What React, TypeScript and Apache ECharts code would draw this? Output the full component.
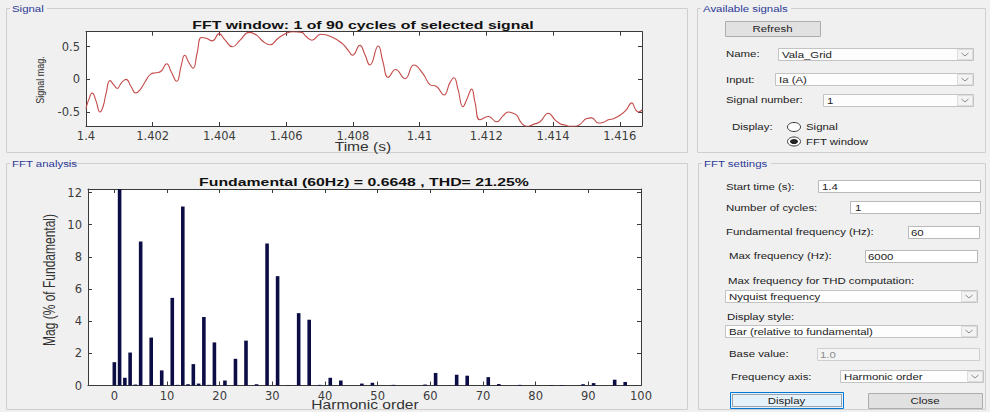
import React, { useEffect, useRef } from 'react';
import * as echarts from 'echarts';

// ---------- Data ----------
const signalTime = [
  1.4, 1.40009, 1.40019, 1.4003, 1.40042, 1.40051, 1.4006, 1.40072, 1.40084, 1.40094,
  1.40105, 1.4012, 1.40135, 1.40149, 1.40162, 1.40177, 1.40194, 1.40209, 1.40224, 1.40242,
  1.40255, 1.40272, 1.40285, 1.40296, 1.40309, 1.40321, 1.40333, 1.40346, 1.4036, 1.40379,
  1.40399, 1.40417, 1.40439, 1.40462, 1.40489, 1.40513, 1.40531, 1.40552, 1.40576, 1.40602,
  1.40621, 1.40647, 1.40659, 1.40677, 1.40704, 1.4074, 1.4077, 1.40785, 1.40799, 1.40821,
  1.40836, 1.40851, 1.40876, 1.4089, 1.40906, 1.40928, 1.40956, 1.40983, 1.41011, 1.41031,
  1.41051, 1.41073, 1.41091, 1.41103, 1.41115, 1.4113, 1.41142, 1.41156, 1.41166, 1.41181,
  1.41206, 1.41231, 1.4125, 1.41266, 1.4128, 1.41291, 1.41304, 1.41321, 1.41341, 1.41361,
  1.41386, 1.41406, 1.41421, 1.41436, 1.41451, 1.41466, 1.41481, 1.41501, 1.41516, 1.41536,
  1.4155, 1.41566, 1.41583, 1.41601, 1.41619, 1.41636, 1.41646, 1.41656, 1.41667,
];
const signalMag = [
  -0.45, -0.3, -0.21, -0.33, -0.5, -0.42, -0.22, -0.02, -0.09, -0.14,
  -0.06, 0.0, -0.11, -0.21, -0.16, -0.04, 0.08, 0.1, 0.12, 0.24,
  0.12, -0.03, 0.2, 0.37, 0.25, 0.17, 0.4, 0.64, 0.63, 0.59,
  0.7, 0.6, 0.5, 0.6, 0.72, 0.67, 0.58, 0.53, 0.63, 0.71,
  0.73, 0.72, 0.66, 0.6, 0.69, 0.64, 0.54, 0.45, 0.37, 0.52,
  0.38, 0.22, 0.51, 0.27, 0.03, 0.15, 0.01, 0.22, 0.08, -0.08,
  -0.11, -0.24, -0.05, 0.025, -0.15, -0.42, -0.3, -0.15, -0.35, -0.62,
  -0.57, -0.65, -0.56, -0.5, -0.52, -0.55, -0.66, -0.72, -0.69, -0.65,
  -0.52, -0.62, -0.68, -0.7, -0.72, -0.72, -0.69, -0.6, -0.59, -0.67,
  -0.66, -0.62, -0.6, -0.55, -0.47, -0.36, -0.45, -0.5, -0.47,
];
const timeTicks = [1.4, 1.402, 1.404, 1.406, 1.408, 1.41, 1.412, 1.414, 1.416];
const signalTicks = [-0.5, 0, 0.5];

const harmonicOrders = [
  0, 1, 2, 3, 4, 5, 7, 9, 11, 12, 13, 14, 15, 16, 17, 18, 19, 21, 23, 25, 27, 29, 31, 33, 35,
  37, 39, 41, 43, 47, 49, 53, 59, 61, 65, 67, 71, 73, 77, 83, 85, 89, 91, 95, 97,
];
const magnitudes = [
  1.45, 100, 0.48, 2.05, 0.06, 8.95, 2.98, 0.94, 5.45, 0.04, 11.13, 0.08, 1.33, 0.12, 4.26, 0.04, 2.68,
  0.31, 1.66, 2.79, 0.08, 8.83, 6.8, 0.03, 4.5, 4.09, 0.04, 0.48, 0.31, 0.12, 0.17, 0.04, 0.06, 0.78,
  0.67, 0.61, 0.52, 0.09, 0.04, 0.03, 0.03, 0.08, 0.15, 0.36, 0.22,
];
const harmonicTicks = [0, 10, 20, 30, 40, 50, 60, 70, 80, 90, 100];
const magTicks = [0, 2, 4, 6, 8, 10, 12];

const signalTitle = 'FFT window: 1 of 90 cycles of selected signal';
const fftTitle = 'Fundamental (60Hz) = 0.6648 , THD= 21.25%';

// ---------- Helpers ----------
const UI_FONT = 'Liberation Sans';
const TICK_FONT = 'DejaVu Sans';
const AX = '#3a3a3a';

function txt(x: number, y: number, text: string, o: any = {}) {
  return {
    type: 'text',
    x,
    y,
    z: 10,
    rotation: o.rot || 0,
    scaleX: o.sx ?? 1.27,
    scaleY: o.sy ?? 1,
    style: {
      text,
      fontFamily: UI_FONT,
      fontSize: o.fs ?? 9,
      fontWeight: o.fw ?? 'normal',
      fill: o.fill ?? '#222',
      align: o.align ?? 'left',
      verticalAlign: 'middle',
    },
  };
}
function box(x: number, y: number, w: number, h: number, fill: string, stroke: string, extra: any = {}) {
  return {
    type: 'rect',
    z: 5,
    shape: { x: x + 0.5, y: y + 0.5, width: w, height: h },
    style: { fill, stroke, lineWidth: 1, ...extra },
  };
}
function chevron(cx: number, cy: number) {
  return {
    type: 'polyline',
    z: 11,
    shape: { points: [[cx - 3.5, cy - 1.5], [cx, cy + 1.5], [cx + 3.5, cy - 1.5]] },
    style: { stroke: '#8a8a8a', fill: null, lineWidth: 1 },
  };
}
function dropdown(x: number, y: number, w: number, h: number, label: string) {
  return [
    box(x, y, w, h, '#fdfdfd', '#c3c3c3'),
    box(x + w - 16, y + 1, 15, h - 2, '#f3f3f3', '#dddddd'),
    chevron(x + w - 8, y + h / 2 + 0.5),
    txt(x + 4, y + h / 2 + 0.5, label),
  ];
}
function ellipse(cx: number, cy: number, rx: number, ry: number, fill: any, stroke: any) {
  return { type: 'ellipse', z: 10, shape: { cx, cy, rx, ry }, style: { fill, stroke, lineWidth: 1 } };
}
function panel(x: number, y: number, w: number, h: number, title: string, tw: number) {
  return [
    {
      type: 'rect',
      z: 1,
      shape: { x: x + 0.5, y: y + 0.5, width: w, height: h },
      style: { fill: 'transparent', stroke: '#cfcfcf', lineWidth: 1 },
    },
    { type: 'rect', z: 2, shape: { x: x + 4, y: y - 5, width: tw + 5, height: 11 }, style: { fill: '#f0f0f0' } },
    txt(x + 6, y + 0.5, title, { fill: '#2b3a96' }),
  ];
}

const graphics: any[] = [
  ...panel(6, 8, 681, 144, 'Signal', 32),
  ...panel(6, 163, 681, 246, 'FFT analysis', 51),
  ...panel(697, 8, 288, 144, 'Available signals', 85),
  ...panel(698, 163, 287, 246, 'FFT settings', 64),

  // Titles & axis names
  txt(363, 25.5, signalTitle, { fs: 11, fw: 'bold', sx: 1.44, align: 'center', fill: '#111' }),
  txt(364, 182.5, fftTitle, { fs: 11, fw: 'bold', sx: 1.44, align: 'center', fill: '#111' }),
  txt(363, 147, 'Time (s)', { fs: 12, sx: 1.3, align: 'center', fill: '#333' }),
  txt(365, 404.5, 'Harmonic order', { fs: 12, sx: 1.3, align: 'center', fill: '#333' }),
  txt(40, 80, 'Signal mag.', { fs: 9, sx: 1, sy: 1.3, rot: Math.PI / 2, align: 'center', fill: '#333' }),
  txt(49, 280, 'Mag (% of Fundamental)', { fs: 12, sx: 1, sy: 1.3, rot: Math.PI / 2, align: 'center', fill: '#333' }),

  // Available signals
  box(725, 21, 95, 15, '#e1e1e1', '#adadad'),
  txt(772.5, 28.5, 'Refresh', { align: 'center' }),
  txt(726, 53.5, 'Name:'),
  ...dropdown(778, 48, 195, 12, 'Vala_Grid'),
  txt(726, 79.5, 'Input:'),
  ...dropdown(775, 73, 198, 12, 'Ia (A)'),
  txt(726, 100, 'Signal number:'),
  ...dropdown(823, 94, 150, 12, '1'),
  txt(732, 127, 'Display:'),
  ellipse(794, 127, 6.5, 4.5, '#ffffff', '#333333'),
  txt(806, 127, 'Signal'),
  ellipse(794, 141.5, 6.5, 4.5, '#ffffff', '#333333'),
  ellipse(794, 141.5, 4, 2.6, '#222222', null),
  txt(806, 141.5, 'FFT window'),

  // FFT settings
  txt(726, 186.5, 'Start time (s):'),
  box(818, 180, 162, 12, '#ffffff', '#b9b9b9'),
  txt(822, 186.5, '1.4'),
  txt(726, 207.5, 'Number of cycles:'),
  box(850, 201, 130, 12, '#ffffff', '#b9b9b9'),
  txt(855, 207.5, '1'),
  txt(726, 232, 'Fundamental frequency (Hz):'),
  box(908, 226, 71, 12, '#ffffff', '#b9b9b9'),
  txt(911, 232.5, '60'),
  txt(729, 256, 'Max frequency (Hz):'),
  box(865, 250, 112, 12, '#ffffff', '#b9b9b9'),
  txt(868, 256.5, '6000'),
  txt(728, 280.5, 'Max frequency for THD computation:'),
  ...dropdown(725, 290, 252, 12, 'Nyquist frequency'),
  txt(727, 316.5, 'Display style:'),
  ...dropdown(725, 325, 252, 12, 'Bar (relative to fundamental)'),
  txt(729, 353.5, 'Base value:'),
  box(817, 348, 162, 12, '#f4f4f4', '#cfcfcf'),
  txt(820, 354.5, '1.0', { fill: '#8d8d8d' }),
  txt(731, 376.5, 'Frequency axis:'),
  ...dropdown(840, 370, 143, 12, 'Harmonic order'),
  box(730, 392, 113, 16, '#e5f1fb', '#0078d7'),
  box(732, 394, 109, 12, 'transparent', '#555555', { lineDash: [1, 1] }),
  txt(786.5, 400.5, 'Display', { align: 'center' }),
  box(868, 393, 114, 15, '#e1e1e1', '#adadad'),
  txt(925, 400.5, 'Close', { align: 'center' }),
];

function xAx(grid: number, min: number, max: number, ticks: number[], top: boolean, fmt?: (v: number) => string) {
  return {
    type: 'value',
    gridIndex: grid,
    min,
    max,
    position: top ? 'top' : 'bottom',
    axisLine: { show: true, onZero: false, lineStyle: { color: AX, width: 1 } },
    axisTick: { show: true, inside: true, length: 4, customValues: ticks, lineStyle: { color: AX } },
    axisLabel: top
      ? { show: false }
      : { show: true, customValues: ticks, margin: 4, color: '#3c3c3c', fontFamily: TICK_FONT, fontSize: 11.5, formatter: fmt },
    splitLine: { show: false },
  };
}
function yAx(grid: number, min: number, max: number, ticks: number[], right: boolean) {
  return {
    type: 'value',
    gridIndex: grid,
    min,
    max,
    position: right ? 'right' : 'left',
    axisLine: { show: true, onZero: false, lineStyle: { color: AX, width: 1 } },
    axisTick: { show: true, inside: true, length: 4, customValues: ticks, lineStyle: { color: AX } },
    axisLabel: right
      ? { show: false }
      : { show: true, customValues: ticks, margin: 6, color: '#3c3c3c', fontFamily: TICK_FONT, fontSize: 11.5 },
    splitLine: { show: false },
  };
}

const tFmt = (v: number) => String(+Number(v).toFixed(3));
const hFmt = (v: number) => String(Math.round(v));

const option: any = {
  animation: false,
  backgroundColor: '#f0f0f0',
  grid: [
    { left: 86, top: 31.7, width: 556, height: 94.3, show: true, backgroundColor: '#ffffff', borderWidth: 0 },
    { left: 88, top: 189, width: 553, height: 196.5, show: true, backgroundColor: '#ffffff', borderWidth: 0 },
  ],
  xAxis: [
    xAx(0, 1.4, 1.4166667, timeTicks, false, tFmt),
    xAx(0, 1.4, 1.4166667, timeTicks, true),
    xAx(1, -5, 100, harmonicTicks, false, hFmt),
    xAx(1, -5, 100, harmonicTicks, true),
  ],
  yAxis: [
    yAx(0, -0.715, 0.73, signalTicks, false),
    yAx(0, -0.715, 0.73, signalTicks, true),
    yAx(1, 0, 12.22, magTicks, false),
    yAx(1, 0, 12.22, magTicks, true),
  ],
  series: [
    {
      type: 'line',
      xAxisIndex: 0,
      yAxisIndex: 0,
      data: signalTime.map((t, i) => [t, signalMag[i]]),
      showSymbol: false,
      smooth: 0.5,
      clip: true,
      lineStyle: { color: '#c44a48', width: 1.1 },
    },
    {
      type: 'bar',
      xAxisIndex: 2,
      yAxisIndex: 2,
      data: harmonicOrders.map((h, i) => [h, magnitudes[i]]),
      barWidth: 3.6,
      clip: true,
      itemStyle: { color: '#0d0d45' },
    },
  ],
  graphic: { elements: graphics },
};

export default function App() {
  const ref = useRef<HTMLDivElement>(null);
  useEffect(() => {
    const chart = echarts.init(ref.current as HTMLDivElement, null, { renderer: 'svg' });
    chart.setOption(option);
    return () => chart.dispose();
  }, []);
  return (
    <div
      ref={ref}
      style={{ position: 'fixed', left: 0, top: 0, width: 990, height: 412, background: '#f0f0f0' }}
    />
  );
}
